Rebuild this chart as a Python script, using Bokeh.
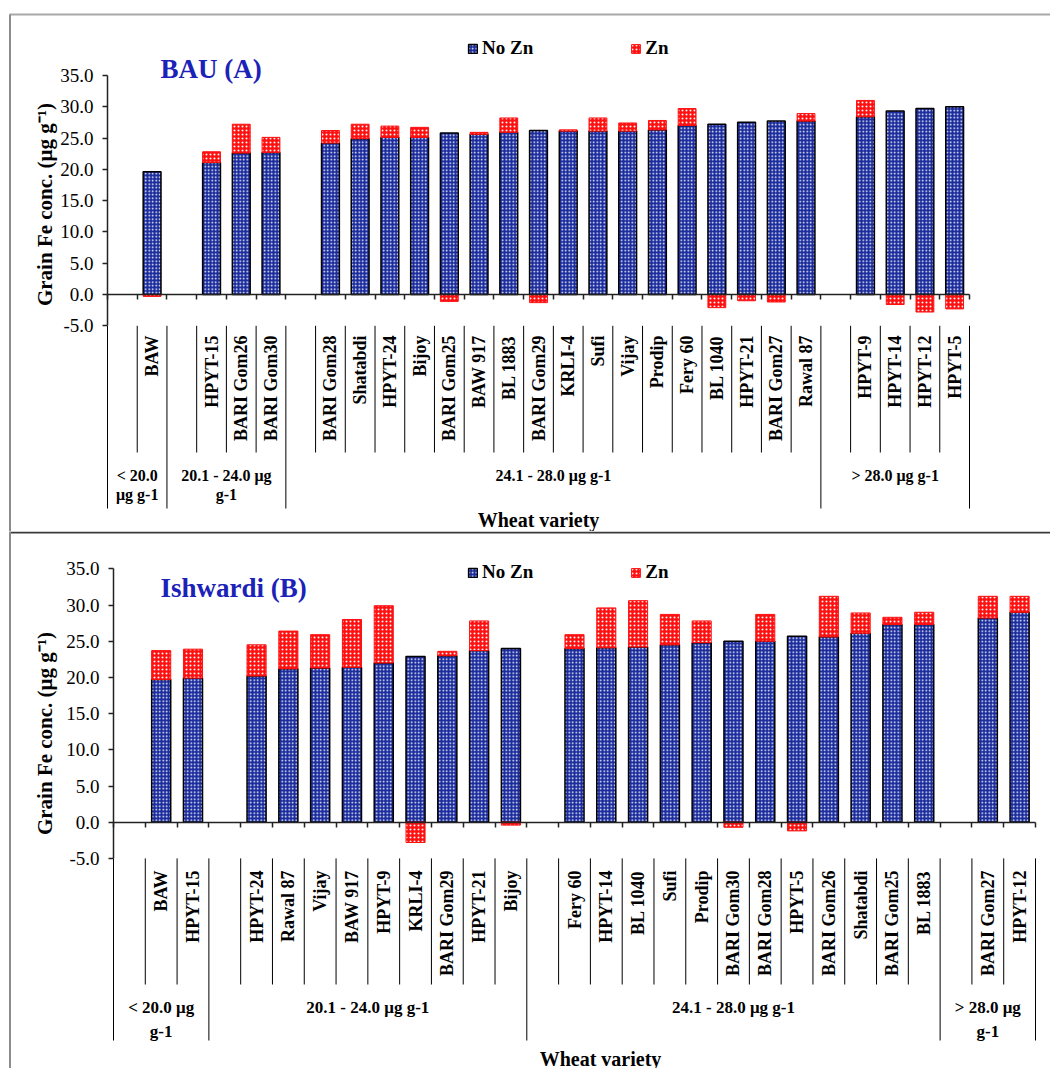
import math
from bokeh.plotting import figure
from bokeh.models import (Range1d, LinearAxis, FixedTicker, NumeralTickFormatter,
                          ColumnDataSource, Legend, LegendItem)
from bokeh.layouts import column
from bokeh.core.properties import value
from bokeh.embed import file_html
from bokeh.resources import INLINE

SERIF = "Liberation Serif"
BLUE = "#1a2b9c"
RED = "#ff1010"
TITLE_BLUE = "#1c22b8"

# ---------------- data: BAU (A) ----------------
bau_groups = ["< 20.0\nμg g-1", "20.1 - 24.0 μg\ng-1", "24.1 - 28.0 μg g-1", "> 28.0 μg g-1"]
bau_varieties = [
    ["BAW"],
    ["HPYT-15", "BARI Gom26", "BARI Gom30"],
    ["BARI Gom28", "Shatabdi", "HPYT-24", "Bijoy", "BARI Gom25", "BAW 917", "BL 1883",
     "BARI Gom29", "KRLI-4", "Sufi", "Vijay", "Prodip", "Fery 60", "BL 1040", "HPYT-21",
     "BARI Gom27", "Rawal 87"],
    ["HPYT-9", "HPYT-14", "HPYT-12", "HPYT-5"],
]
bau_nozn = [
    [19.6],
    [21.1, 22.6, 22.7],
    [24.2, 24.9, 25.1, 25.1, 25.8, 25.6, 25.9, 26.2, 26.1, 26.1, 26.1, 26.3, 27.0, 27.2,
     27.5, 27.7, 27.7],
    [28.4, 29.3, 29.7, 30.0],
]
bau_zn = [
    [-0.3],
    [1.7, 4.6, 2.4],
    [2.0, 2.3, 1.8, 1.6, -1.1, 0.3, 2.3, -1.3, 0.2, 2.1, 1.3, 1.5, 2.7, -2.1, -1.0, -1.2, 1.2],
    [2.6, -1.6, -2.8, -2.3],
]

# ---------------- data: Ishwardi (B) ----------------
ish_groups = ["< 20.0 μg\ng-1", "20.1 - 24.0 μg g-1", "24.1 - 28.0 μg g-1", "> 28.0 μg\ng-1"]
ish_varieties = [
    ["BAW", "HPYT-15"],
    ["HPYT-24", "Rawal 87", "Vijay", "BAW 917", "HPYT-9", "KRLI-4", "BARI Gom29",
     "HPYT-21", "Bijoy"],
    ["Fery 60", "HPYT-14", "BL 1040", "Sufi", "Prodip", "BARI Gom30", "BARI Gom28",
     "HPYT-5", "BARI Gom26", "Shatabdi", "BARI Gom25", "BL 1883"],
    ["BARI Gom27", "HPYT-12"],
]
ish_nozn = [
    [19.7, 19.9],
    [20.2, 21.2, 21.3, 21.4, 22.0, 22.9, 23.0, 23.7, 24.0],
    [24.0, 24.1, 24.2, 24.5, 24.8, 25.0, 25.0, 25.7, 25.6, 26.1, 27.3, 27.3],
    [28.2, 29.0],
]
ish_zn = [
    [4.0, 4.0],
    [4.3, 5.2, 4.6, 6.6, 7.9, -2.8, 0.6, 4.1, -0.4],
    [1.9, 5.5, 6.4, 4.2, 3.0, -0.7, 3.7, -1.2, 5.6, 2.8, 1.0, 1.7],
    [3.0, 2.2],
]

y_ticks = [-5, 0, 5, 10, 15, 20, 25, 30, 35]
legend_labels = ["No Zn", "Zn"]
x_title = "Wheat variety"
y_title = "Grain Fe conc. (μg g⁻¹)"

PAGE_L, PAGE_R = 0, 1050


def build_panel(title, groups, varieties, nozn, zn, g, first):
    top_px, H = g["fig_top"], g["H"]
    x0, w, y0, k = g["x0"], g["w"], g["y0"], g["k"]

    def dx(px):
        return (px - x0) / w

    def dy(py):
        return (y0 - py) / k

    # slots: one empty slot at the start of every group
    centers, names, nz, zz, bounds = [], [], [], [], [0]
    slot = 0
    for gv, gn, gz in zip(varieties, nozn, zn):
        slot += 1
        for name, a, b in zip(gv, gn, gz):
            centers.append(slot + 0.5)
            names.append(name)
            nz.append(a)
            zz.append(b)
            slot += 1
        bounds.append(slot)
    n_slots = slot

    p = figure(width=PAGE_R - PAGE_L, height=H,
               x_range=Range1d(dx(PAGE_L), dx(PAGE_R)),
               y_range=Range1d(dy(top_px + H), dy(top_px)),
               x_axis_type=None, y_axis_type=None,
               toolbar_location=None, output_backend="svg",
               min_border_left=0, min_border_right=0,
               min_border_top=0, min_border_bottom=0,
               outline_line_color=None,
               background_fill_color="white", border_fill_color="white")

    # frame lines of the original figure
    if first:
        p.segment(x0=[dx(9)], y0=[dy(14)], x1=[dx(PAGE_R)], y1=[dy(14)],
                  line_color="#a8a8a8", line_width=2)
        p.segment(x0=[dx(9.5)], y0=[dy(14)], x1=[dx(9.5)], y1=[dy(top_px + H)],
                  line_color="#8c8c8c", line_width=2)
    else:
        p.segment(x0=[dx(9)], y0=[dy(532)], x1=[dx(PAGE_R)], y1=[dy(532)],
                  line_color="#3a3a3a", line_width=2)
        p.segment(x0=[dx(9.5)], y0=[dy(top_px)], x1=[dx(9.5)], y1=[dy(top_px + H)],
                  line_color="#8c8c8c", line_width=2)

    # bars
    src_a = ColumnDataSource(dict(x=centers, top=nz))
    r_a = p.vbar(x="x", top="top", bottom=0, width=0.6, source=src_a,
                 fill_color=BLUE, line_color="black", line_width=1.5,
                 hatch_pattern="dot", hatch_color="white", hatch_scale=3.5,
                 hatch_weight=2)
    zb = [a if b >= 0 else b for a, b in zip(nz, zz)]
    zt = [a + b if b >= 0 else 0 for a, b in zip(nz, zz)]
    src_b = ColumnDataSource(dict(x=centers, bottom=zb, top=zt))
    r_b = p.vbar(x="x", top="top", bottom="bottom", width=0.6, source=src_b,
                 fill_color=RED, line_color=RED, line_width=1,
                 hatch_pattern="dot", hatch_color="white", hatch_scale=4,
                 hatch_weight=1.4)

    # axes crossing at zero
    yax = LinearAxis(fixed_location=0, bounds=(min(y_ticks), max(y_ticks)),
                     ticker=FixedTicker(ticks=y_ticks),
                     formatter=NumeralTickFormatter(format="0.0"),
                     major_tick_out=5, major_tick_in=0,
                     minor_tick_out=0, minor_tick_in=0,
                     axis_line_width=1.5, major_tick_line_width=1.5,
                     axis_line_color="#222222", major_tick_line_color="#222222",
                     major_label_text_font=SERIF, major_label_text_font_size="19px",
                     major_label_text_color="black", major_label_standoff=9)
    p.add_layout(yax, "left")
    xax = LinearAxis(fixed_location=0, bounds=(0, n_slots),
                     ticker=FixedTicker(ticks=list(range(0, n_slots + 1))),
                     major_tick_out=5, major_tick_in=0,
                     minor_tick_out=0, minor_tick_in=0,
                     axis_line_width=1.5, major_tick_line_width=1.5,
                     axis_line_color="#222222", major_tick_line_color="#222222",
                     major_label_text_color=None)
    p.add_layout(xax, "below")

    # category label separators
    group_set = set(bounds)
    sx, sy0, sy1 = [], [], []
    for b in range(0, n_slots + 1):
        sx.append(b)
        sy0.append(-5)
        sy1.append(dy(g["long_end"]) if b in group_set else dy(g["short_end"]))
    p.segment(x0=sx, y0=sy0, x1=sx, y1=sy1, line_color="black", line_width=1)

    # category labels
    p.text(x=centers, y=[dy(g["cat_top"])] * len(centers), text=names,
           angle=math.pi / 2, text_align="right", text_baseline="middle",
           text_font=value(SERIF), text_font_style="bold",
           text_font_size="18px", text_color="black")

    # group labels
    gx = [(bounds[i] + bounds[i + 1]) / 2 for i in range(len(groups))]
    p.text(x=gx, y=[dy(g["grp_top"])] * len(groups), text=groups,
           text_align="center", text_baseline="top",
           text_font=value(SERIF), text_font_style="bold",
           text_font_size=g["grp_font"], text_line_height=g["grp_lh"],
           text_color="black")

    # axis titles
    p.text(x=[dx(g["xt_x"])], y=[dy(g["xt_y"])], text=[x_title],
           text_align="center", text_baseline="alphabetic",
           text_font=value(SERIF), text_font_style="bold",
           text_font_size="20px", text_color="black")
    p.text(x=[dx(44)], y=[dy(g["yt_y"])], text=[y_title], angle=math.pi / 2,
           text_align="center", text_baseline="alphabetic",
           text_font=value(SERIF), text_font_style="bold",
           text_font_size="21px", text_color="black")

    # panel title
    p.text(x=[dx(160)], y=[dy(g["title_y"])], text=[title],
           text_align="left", text_baseline="alphabetic",
           text_font=value(SERIF), text_font_style="bold",
           text_font_size="27px", text_color=TITLE_BLUE)

    # legend
    leg_h = 22
    leg_top = g["leg_cy"] - top_px - leg_h / 2
    legend = Legend(items=[LegendItem(label=legend_labels[0], renderers=[r_a]),
                           LegendItem(label=legend_labels[1], renderers=[r_b])],
                    orientation="horizontal",
                    location=(467 - PAGE_L, H - leg_top - leg_h),
                    glyph_width=11, glyph_height=11, label_height=leg_h,
                    label_standoff=4, spacing=97, padding=0, margin=0,
                    border_line_color=None, background_fill_alpha=0,
                    label_text_font=SERIF, label_text_font_style="bold",
                    label_text_font_size="19px", label_text_color="black")
    p.add_layout(legend)
    return p


top_geom = dict(fig_top=0, H=531, x0=107, w=(969 - 107) / 29, y0=294, k=6.26,
                cat_top=335, short_end=452, long_end=508, grp_top=466,
                grp_font="16px", grp_lh=1.15, xt_x=538, xt_y=519,
                yt_y=204, title_y=68, leg_cy=48)
bot_geom = dict(fig_top=531, H=537, x0=113, w=(1035 - 113) / 29, y0=821.7, k=7.24,
                cat_top=870, short_end=984, long_end=1040, grp_top=997,
                grp_font="17px", grp_lh=1.3, xt_x=600, xt_y=1058,
                yt_y=733, title_y=587, leg_cy=572)

p1 = build_panel("BAU (A)", bau_groups, bau_varieties, bau_nozn, bau_zn, top_geom, True)
p2 = build_panel("Ishwardi (B)", ish_groups, ish_varieties, ish_nozn, ish_zn, bot_geom, False)

layout = column(p1, p2, spacing=0)
open("out.html", "w").write(file_html(layout, INLINE))
